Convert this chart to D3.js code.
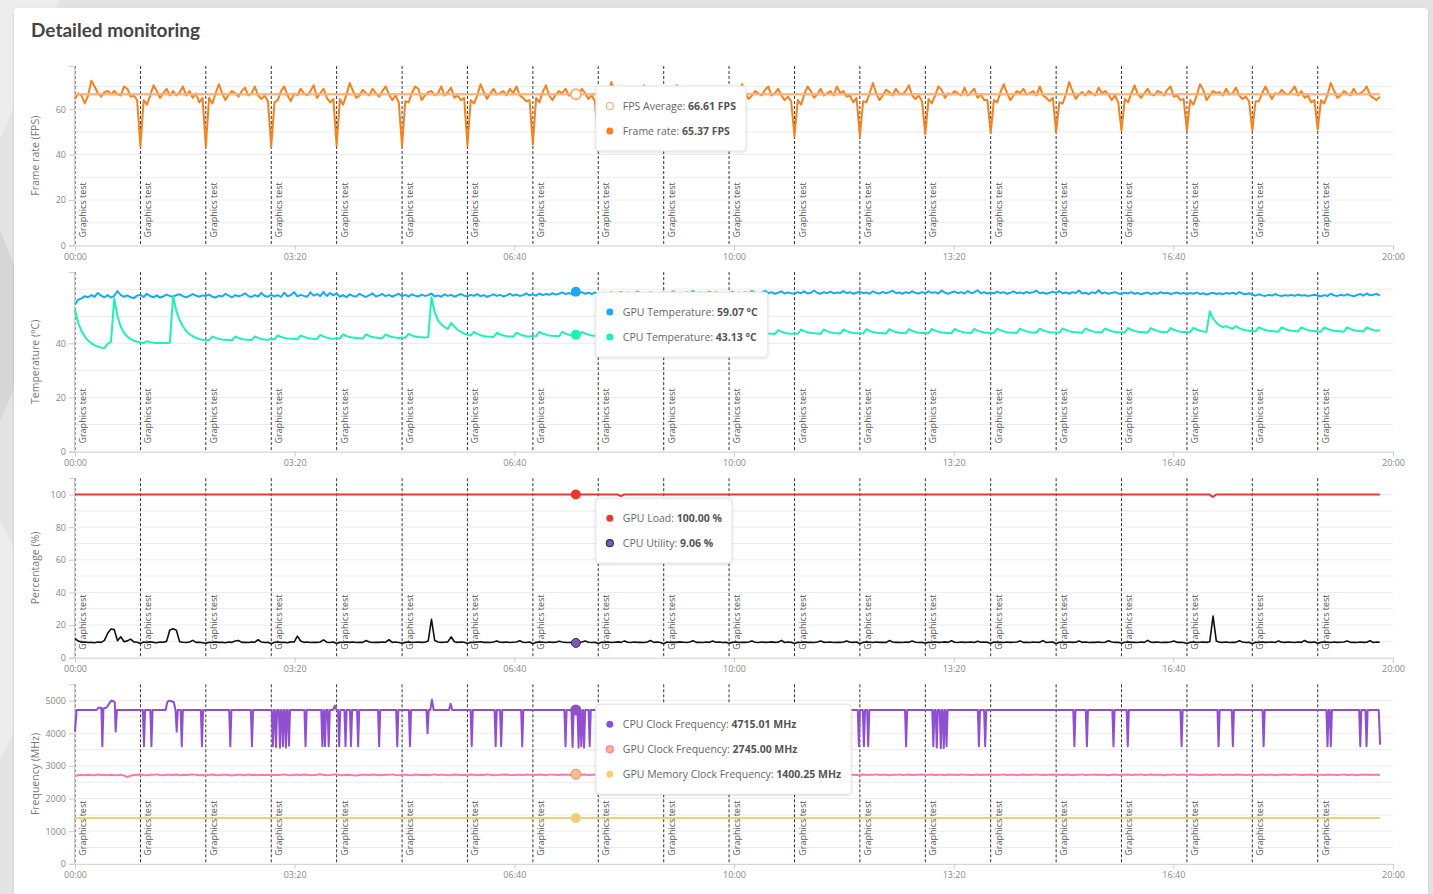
<!DOCTYPE html>
<html lang="en">
<head>
    <meta charset="utf-8" />
    <title>Detailed monitoring</title>
    <script src="https://d3js.org/d3.v7.min.js"></script>
    <style>
        body {
            margin: 0;
            padding: 0;
            background: #e3e3e3;
            overflow: hidden;
        }
        svg {
            display: block;
        }
    </style>
</head>
<body>
<svg id="chart"></svg>
<script>
    var w = 1433;
    var h = 894;

    // Time axis (seconds) and its labels
    var timeTicks = [0, 200, 400, 600, 800, 1000, 1200];
    var timeTickLabels = ["00:00", "03:20", "06:40", "10:00", "13:20", "16:40", "20:00"];

    // Start of every "Graphics test" run (seconds)
    var testStarts = [0, 59.6, 119.1, 178.7, 238.2, 297.8, 357.3, 416.9, 476.4, 536,
                      595.5, 655.1, 714.6, 774.2, 833.7, 893.3, 952.8, 1012.4, 1071.9, 1131.5];
    var testLabel = "Graphics test";

    // 20 samples per test run
    var sampleStep = 2.9775;

    // Frame rate (FPS), one row per test run
    var frameRate = [
        64.5, 67, 66, 62.5, 66, 72.5, 70, 67, 65.5, 67.5, 68, 66.5, 68, 66.5, 66, 70, 69, 65.5, 66, 64,
        43.5, 64, 62, 66, 70.5, 68, 65, 67, 69, 66, 68, 66, 67.5, 70, 66, 68, 65, 67, 63, 65,
        43.5, 65, 62.5, 67, 71, 67, 64, 66.5, 68, 67, 65.5, 68, 69.5, 66, 67, 70, 66, 64.5, 66, 63.5,
        43.5, 63, 64, 68, 70, 66, 63.5, 67, 66, 69, 67, 66, 68, 70.5, 65, 67, 69, 65, 63, 64.5,
        44, 64.5, 62, 66.5, 71.5, 68, 65, 66, 68.5, 67, 66, 69, 67, 65.5, 68, 70, 66.5, 64, 66, 63,
        44, 63.5, 63, 67, 70, 69, 64, 66, 67.5, 68, 66, 67, 70, 66, 67.5, 69.5, 65, 66, 64, 65,
        44, 64, 62.5, 66, 71, 67.5, 64.5, 67, 69, 66.5, 67, 68, 66, 69, 67, 70, 66, 65, 63.5, 64,
        44.5, 65, 63, 67.5, 70.5, 66, 64, 66.5, 68, 67, 69, 66, 67, 65.37, 66, 69, 67, 64.5, 66, 63.5,
        45, 64, 63, 67, 72, 67, 65, 66, 68, 66.5, 67, 69, 66, 68, 70.5, 66, 67, 65, 64, 66,
        46, 63.5, 62.5, 66, 70.5, 68.5, 64, 67, 66, 69, 67.5, 66, 68, 67, 69.5, 66.5, 65, 67, 63, 64.5,
        47, 64.5, 63, 67, 71, 66.5, 64.5, 66, 68, 67, 66, 68.5, 70, 66, 67, 69, 66, 64, 65.5, 63.5,
        48, 64, 62, 66.5, 70, 68, 65, 66.5, 69, 66, 67, 68, 66, 70, 67, 68, 65.5, 66, 63, 65,
        48, 63.5, 63, 67, 71.5, 67, 64, 66, 68.5, 67.5, 66, 69, 67, 66.5, 68, 70.5, 66, 64.5, 66, 63.5,
        49, 64.5, 62.5, 66, 70, 68.5, 65, 67, 66.5, 68, 67, 66, 69.5, 66, 67.5, 69, 65, 66.5, 64, 64,
        49.5, 64, 63, 67.5, 71, 67, 64, 66, 68, 67, 69, 66.5, 67, 68, 66, 70, 66, 65, 63.5, 65,
        50, 63, 62.5, 66.5, 72, 68, 64.5, 66.5, 67.5, 66, 68, 67, 66, 69.5, 67, 68, 66.5, 64, 66, 63,
        50.5, 64.5, 63, 67, 70.5, 66.5, 65, 67, 69, 66.5, 66, 68, 67.5, 66, 68.5, 70, 65.5, 66, 64, 64.5,
        50.5, 64, 62, 66, 71, 68.5, 64, 66, 68, 67, 67.5, 66, 69, 66.5, 67, 69.5, 66, 64.5, 65.5, 63.5,
        50.5, 63.5, 63.5, 67, 70, 67, 64.5, 67, 66.5, 68.5, 67, 66.5, 68, 70, 66, 68, 65, 66, 63, 64,
        51, 64, 62.5, 66.5, 71.5, 68, 65, 66, 68, 67, 66, 69, 66.5, 67, 68, 70, 66, 65, 64, 65.5
    ];
    var fpsAverage = 66.61;

    // GPU temperature (°C)
    var gpuTemp = [
        54.5, 56.1, 56.6, 57.4, 57, 57.8, 57.2, 58.6, 57.6, 57, 57.8, 56.9, 57.5, 59.3, 57.8, 57.2, 57.7, 57, 56.7, 57.6,
        57.9, 57.1, 58.3, 57.4, 57, 57.7, 56.9, 57.3, 58, 57.5, 57.2, 57.8, 58.1, 57.4, 57, 57.5, 58.2, 57.6, 57.2, 57.7,
        57.5, 58, 57.2, 56.9, 57.6, 57.3, 58.3, 57.6, 57, 57.8, 57.4, 57.7, 58.5, 57.5, 57.1, 57.8, 57.3, 58.6, 57.5, 57.2,
        57.9, 57.3, 57.8, 57.1, 58.7, 57.4, 57.8, 58.9, 57.3, 57.9, 57.5, 57.2, 58.8, 57.6, 58.2, 57.4, 59, 57.5, 58.6, 57.7,
        58.4, 57.2, 57.8, 57, 58.1, 57.5, 57.3, 58.3, 57.6, 57.1, 57.8, 58.4, 57.3, 57.7, 58.2, 57.4, 57.9, 57.2, 57.8, 58.3,
        57.4, 57.9, 57.2, 58.1, 57.6, 57.3, 58, 57.5, 57.8, 58.4, 57.3, 57.7, 57.2, 58.1, 57.5, 57.9, 57.2, 57.7, 58.2, 57.6,
        57.3, 57.9, 57.5, 58.2, 57.4, 57.8, 57.2, 57.6, 58.1, 57.5, 57.9, 57.3, 57.7, 58.3, 57.6, 58, 57.5, 57.8, 58.4, 57.7,
        58.1, 57.6, 58.4, 57.8, 58.2, 57.9, 58.5, 58, 58.3, 58.8, 58.2, 58.6, 58.1, 59.07, 58.5, 58.9, 58.3, 58.7, 58.2, 58.8,
        58.5, 58.1, 58.7, 58.3, 58.9, 58.2, 58.6, 59, 58.4, 58.8, 58.2, 58.5, 59.1, 58.4, 58.7, 58.3, 58.9, 58.5, 58.1, 58.6,
        58.8, 58.3, 58.6, 59.2, 58.4, 58.7, 58.2, 58.9, 58.5, 59.3, 58.4, 58.8, 58.3, 58.6, 59.1, 58.5, 58.9, 58.3, 58.7, 58.4,
        58.6, 59.1, 58.4, 58.8, 58.2, 58.9, 58.5, 59.3, 58.6, 58.3, 58.8, 59.4, 58.5, 58.9, 58.3, 58.7, 59.2, 58.4, 58.8, 58.5,
        58.3, 58.9, 58.5, 59.2, 58.4, 58.7, 59.5, 58.6, 58.3, 58.9, 58.5, 59.1, 58.4, 58.8, 58.6, 59.3, 58.5, 58.9, 58.3, 58.7,
        59.1, 58.5, 58.8, 58.3, 59.2, 58.6, 58.4, 59, 58.5, 58.9, 59.4, 58.6, 58.8, 58.3, 58.9, 58.5, 59.2, 58.6, 58.4, 58.9,
        58.5, 59.2, 58.6, 58.9, 58.4, 59.5, 58.7, 58.3, 58.8, 59.1, 58.5, 58.9, 58.4, 59.3, 58.6, 58.8, 59.6, 58.5, 58.9, 58.4,
        58.8, 58.4, 59.1, 58.6, 58.9, 58.3, 58.7, 59.2, 58.5, 58.8, 58.4, 59, 58.6, 58.9, 59.4, 58.5, 58.8, 58.3, 58.7, 59.1,
        58.6, 59.3, 58.5, 58.8, 58.3, 58.9, 58.6, 59.5, 58.4, 58.7, 58.2, 58.9, 58.5, 59.6, 58.4, 58.8, 58.3, 58.6, 58.9, 58.4,
        58.2, 58.7, 58.4, 58.9, 58.3, 58.6, 58.1, 58.5, 58.8, 58.2, 58.6, 58.3, 58.9, 58.4, 58.7, 58.2, 58.5, 58.8, 58.3, 58.6,
        58.1, 58.6, 58.3, 58.8, 58.2, 58.5, 58, 58.4, 58.7, 58.2, 58.5, 58.1, 58.6, 58.3, 58.7, 58.2, 58.9, 58.4, 58.1, 58.5,
        57.9, 57.6, 58.1, 57.7, 57.5, 57.9, 57.6, 58.2, 57.7, 57.5, 57.8, 57.6, 57.9, 57.5, 58, 57.6, 57.8, 57.5, 57.7, 57.9,
        57.6, 57.4, 57.8, 57.5, 58.3, 57.7, 57.5, 57.9, 57.6, 58.1, 57.7, 57.4, 57.8, 58.2, 57.6, 58.4, 57.7, 57.9, 58.3, 57.6
    ];

    // CPU temperature (°C)
    var cpuTemp = [
        52.3, 47.5, 44.5, 42.5, 41, 40, 39.3, 38.8, 38.4, 38.3, 39.8, 40.5, 56.5, 50, 46, 43.8, 42.5, 41.6, 41, 40.6,
        40.3, 40.1, 40.8, 40.4, 40.2, 40.1, 40.1, 40.1, 40.1, 40.2, 57.3, 52, 48.5, 46.2, 44.6, 43.4, 42.6, 42, 41.6, 41.3,
        41.2, 41.1, 42.5, 42, 41.6, 41.4, 41.3, 41.2, 41.1, 42.5, 42, 41.6, 41.4, 41.3, 41.2, 42.5, 42, 41.6, 41.4, 41.3,
        41.6, 41.5, 42.9, 42.4, 42, 41.8, 41.7, 41.6, 41.5, 42.9, 42.4, 42, 41.8, 41.7, 41.6, 43.1, 42.5, 42.1, 41.8, 41.7,
        41.9, 41.8, 43.3, 42.7, 42.3, 42.1, 42, 41.9, 41.8, 43.3, 42.7, 42.3, 42.1, 42, 41.9, 43.3, 42.7, 42.3, 42.1, 42,
        42.1, 42, 43.5, 42.9, 42.5, 42.3, 42.2, 42.1, 42.3, 57, 51.5, 48.5, 47, 46, 45.3, 47.5, 46.2, 45, 44.2, 43.6,
        43.2, 42.9, 44.2, 43.5, 43, 42.7, 42.5, 42.4, 42.3, 43.9, 43.3, 42.9, 42.6, 42.5, 42.4, 43.9, 43.3, 42.9, 42.6, 42.5,
        42.7, 42.6, 44.2, 43.6, 43.2, 42.9, 42.8, 42.7, 42.6, 44.2, 43.6, 43.2, 42.9, 43.13, 42.7, 44.2, 43.6, 43.2, 42.9, 42.8,
        43, 42.9, 44.5, 43.9, 43.5, 43.2, 43.1, 43, 42.9, 44.5, 43.9, 43.5, 43.2, 43.1, 43, 44.5, 43.9, 43.5, 43.2, 43.1,
        43.2, 43.1, 44.7, 44.1, 43.7, 43.4, 43.3, 43.2, 43.1, 44.7, 44.1, 43.7, 43.4, 43.3, 43.2, 44.7, 44.1, 43.7, 43.4, 43.3,
        43.4, 43.3, 44.9, 44.3, 43.9, 43.6, 43.5, 43.4, 43.3, 44.9, 44.3, 43.9, 43.6, 43.5, 43.4, 44.9, 44.3, 43.9, 43.6, 43.5,
        43.6, 43.5, 45.1, 44.5, 44.1, 43.8, 43.7, 43.6, 43.5, 45.1, 44.5, 44.1, 43.8, 43.7, 43.6, 45.1, 44.5, 44.1, 43.8, 43.7,
        43.7, 43.6, 45.2, 44.6, 44.2, 43.9, 43.8, 43.7, 43.6, 45.2, 44.6, 44.2, 43.9, 43.8, 43.7, 45.2, 44.6, 44.2, 43.9, 43.8,
        43.8, 43.7, 45.3, 44.7, 44.3, 44, 43.9, 43.8, 43.7, 45.3, 44.7, 44.3, 44, 43.9, 43.8, 45.3, 44.7, 44.3, 44, 43.9,
        43.9, 43.8, 45.4, 44.8, 44.4, 44.1, 44, 43.9, 43.8, 45.4, 44.8, 44.4, 44.1, 44, 43.9, 45.4, 44.8, 44.4, 44.1, 44,
        44, 43.9, 45.5, 44.9, 44.5, 44.2, 44.1, 44, 43.9, 45.5, 44.9, 44.5, 44.2, 44.1, 44, 45.5, 44.9, 44.5, 44.2, 44.1,
        44.1, 44, 45.6, 45, 44.6, 44.3, 44.2, 44.1, 44, 45.6, 45, 44.6, 44.3, 44.2, 44.1, 45.6, 45, 44.6, 44.3, 44.2,
        44.2, 44.1, 45.7, 45.1, 44.7, 44.4, 44.3, 51.8, 49.2, 47.6, 46.6, 46, 46.3, 45.8, 45.4, 46.4, 45.6, 45.1, 44.8, 44.6,
        44.5, 44.4, 45.9, 45.3, 44.9, 44.6, 44.5, 44.4, 44.3, 45.9, 45.3, 44.9, 44.6, 44.5, 44.4, 45.9, 45.3, 44.9, 44.6, 44.5,
        44.4, 44.3, 45.9, 45.3, 44.9, 44.6, 44.5, 44.4, 44.3, 45.9, 45.3, 44.9, 44.6, 44.5, 44.4, 45.9, 45.3, 44.9, 44.6, 44.9
    ];

    // GPU load (%), sparse points [seconds, value]
    var gpuLoad = [[0, 100], [494, 100], [497, 99], [500, 100], [1033, 100], [1036, 98.5], [1039, 100], [1188, 100]];

    // CPU utility (%)
    var cpuUtil = [
        11.8, 10.2, 9.4, 9.6, 9.3, 9.5, 9.2, 9.6, 9.4, 10.6, 15, 17.6, 17.2, 10.4, 12.8, 9.8, 10.3, 11.4, 9.7, 9.5,
        8.7, 9.6, 9.3, 9.8, 9.4, 9.2, 9.6, 9.5, 10, 17, 17.8, 16.8, 9.8, 9.5, 9.3, 9.6, 10.6, 9.4, 9.5, 9.2,
        8.8, 9.5, 9.3, 9.6, 9.4, 9.5, 9.2, 9.6, 9.4, 10.2, 10.5, 9.4, 9.5, 9.3, 9.6, 9.5, 11, 9.6, 9.3, 9.5,
        8.6, 9.4, 9.6, 9.3, 9.5, 9.2, 9.7, 9.6, 13.2, 10.2, 9.4, 9.6, 9.3, 9.5, 9.4, 9.6, 10.9, 9.5, 9.3, 9.6,
        8.7, 9.5, 9.3, 9.6, 9.4, 9.6, 9.3, 9.5, 9.4, 10.5, 9.6, 9.3, 9.5, 9.4, 9.6, 9.5, 11, 9.4, 9.6, 9.3,
        8.8, 9.4, 9.6, 9.3, 9.5, 9.6, 9.4, 9.5, 10.2, 23.5, 10.5, 9.6, 9.4, 9.5, 9.7, 12.8, 9.8, 9.4, 9.6, 9.5,
        8.7, 9.5, 9.3, 9.6, 9.8, 9.4, 9.5, 9.3, 9.6, 10.3, 9.5, 9.4, 9.6, 9.3, 9.5, 9.6, 10.4, 9.5, 9.3, 9.6,
        8.6, 9.4, 9.6, 9.5, 9.3, 9.6, 9.4, 9.5, 10.1, 9.6, 9.4, 9.3, 9.5, 9.06, 9.4, 9.6, 10.2, 9.5, 9.3, 9.5,
        8.7, 9.5, 9.4, 9.6, 9.3, 9.5, 9.7, 9.4, 10.3, 9.5, 9.3, 9.6, 9.4, 9.5, 9.3, 9.6, 10.5, 9.4, 9.6, 9.3,
        8.6, 9.6, 9.3, 9.5, 9.4, 9.7, 9.5, 9.3, 9.6, 10.4, 9.4, 9.5, 9.3, 9.6, 9.4, 10.2, 9.5, 9.6, 9.3, 9.5,
        8.8, 9.4, 9.6, 9.3, 9.5, 9.4, 9.6, 10.3, 9.5, 9.3, 9.6, 9.4, 9.5, 9.7, 9.4, 9.5, 10.6, 9.3, 9.6, 9.4,
        8.7, 9.5, 9.3, 9.6, 9.4, 9.5, 9.3, 9.6, 10.2, 9.4, 9.5, 9.6, 9.3, 9.5, 9.4, 9.6, 10.3, 9.5, 9.4, 9.6,
        8.6, 9.4, 9.6, 9.5, 9.3, 9.6, 9.4, 9.5, 9.3, 10.5, 9.6, 9.4, 9.5, 9.3, 9.6, 9.4, 10.2, 9.5, 9.3, 9.5,
        8.8, 9.5, 9.3, 9.6, 9.4, 9.5, 9.7, 9.4, 10.4, 9.5, 9.3, 9.6, 9.4, 9.5, 9.6, 9.3, 10.1, 9.5, 9.6, 9.4,
        8.7, 9.6, 9.4, 9.5, 9.3, 9.6, 9.4, 9.5, 9.6, 10.3, 9.4, 9.5, 9.3, 9.6, 9.5, 9.4, 10.5, 9.3, 9.5, 9.6,
        8.6, 9.4, 9.5, 9.3, 9.6, 9.4, 9.5, 10.2, 9.4, 9.6, 9.3, 9.5, 9.4, 9.6, 9.3, 9.5, 10.4, 9.6, 9.4, 9.5,
        8.8, 9.5, 9.6, 9.4, 9.5, 9.3, 9.6, 9.4, 10.6, 9.5, 9.4, 9.6, 9.3, 9.5, 9.4, 9.6, 10.2, 9.4, 9.5, 9.3,
        8.7, 9.4, 9.6, 9.3, 9.5, 9.6, 9.4, 9.8, 25.5, 10.2, 9.5, 9.4, 9.6, 9.3, 9.5, 9.4, 10.4, 9.6, 9.3, 9.5,
        8.6, 9.5, 9.3, 9.6, 9.4, 9.5, 9.6, 9.3, 10.3, 9.5, 9.4, 9.6, 9.5, 9.3, 9.6, 9.4, 10.5, 9.5, 9.4, 9.6,
        8.8, 9.4, 9.6, 9.5, 9.3, 9.6, 9.4, 9.5, 9.6, 10.2, 9.4, 9.5, 9.3, 9.6, 9.4, 9.5, 10.4, 9.3, 9.6, 9.5
    ];

    // CPU clock frequency (MHz), sparse points [seconds, MHz]
    var cpuClock = [
        [0, 4050], [1.5, 4715], [19.7, 4715], [21.5, 4780], [24, 4780], [24.9, 3600], [25.9, 4760], [28.8, 4790],
        [31, 4900], [33, 5000], [35, 4980], [36.2, 4950], [37, 4050], [38.2, 4715],
        [61.8, 4715], [62.8, 3600], [63.8, 4715], [68.6, 4715], [69.6, 3600], [70.6, 4715],
        [82.5, 4715], [84, 4950], [85.5, 5000], [88, 4980], [90, 4950], [91.5, 4715], [92.6, 4050], [93.6, 4715],
        [96.2, 4715], [97.2, 3600], [98.2, 4715], [114.6, 4715], [115.6, 3600], [116.6, 4715],
        [140.4, 4715], [141.4, 3600], [142.4, 4715], [160.1, 4715], [161.1, 3600], [162.1, 4715],
        [179.2, 4715], [180.2, 3600], [181.2, 4715], [182, 4715], [183, 3580], [184, 4715], [185.6, 4715], [186.6, 3560],
        [187.6, 4715], [188.3, 4715], [189.3, 3600], [190.3, 4715], [191, 4715], [192, 3560], [193, 4715],
        [193.8, 4715], [194.8, 3620], [195.8, 4715], [208.9, 4715], [209.9, 3600], [210.9, 4715],
        [224.2, 4715], [225.2, 3600], [226.2, 4715], [226.6, 4715], [227.6, 3600], [228.6, 4715], [230, 4715], [231, 3600], [232, 4715],
        [235, 4715], [236.5, 4850], [238, 4715], [239.5, 4715], [240.5, 3600], [241.5, 4715],
        [245.3, 4715], [246.3, 3600], [247.3, 4715], [250.3, 4715], [251.3, 3600], [252.3, 4715],
        [256.8, 4715], [257.8, 3600], [258.8, 4715], [275.9, 4715], [276.9, 3600], [277.9, 4715],
        [292.4, 4715], [293.4, 3600], [294.4, 4715], [304, 4715], [305, 3600], [306, 4715],
        [320, 4715], [321, 4000], [322, 4715], [323.5, 4715], [325, 5030], [326.5, 4715],
        [340.5, 4715], [342, 4900], [343.5, 4715], [360.2, 4715], [361.2, 3600], [362.2, 4715],
        [382, 4715], [383, 3600], [384, 4715], [387, 4715], [388, 3600], [389, 4715],
        [406.2, 4715], [407.2, 3600], [408.2, 4715], [445.6, 4715], [446.6, 3600], [447.6, 4715],
        [452, 4715], [453, 3580], [454, 4715], [457.5, 4715], [458.5, 3560], [459.5, 4715], [460, 4715], [461, 3600], [462, 4715],
        [462.5, 4715], [463.5, 3560], [464.5, 4715], [467.6, 4715], [468.6, 3600], [469.6, 4715],
        [520, 4715], [521, 3600], [522, 4715], [600, 4715], [601, 3600], [602, 4715],
        [712.7, 4715], [713.7, 3600], [714.7, 4715], [717.3, 4715], [718.3, 3600], [719.3, 4715],
        [721.2, 4715], [722.2, 3600], [723.2, 4715], [755.7, 4715], [756.7, 3600], [757.7, 4715],
        [780.5, 4715], [781.5, 3600], [782.5, 4715], [783.6, 4715], [784.6, 3560], [785.6, 4715],
        [787.3, 4715], [788.3, 3540], [789.3, 4715], [790, 4715], [791, 3550], [792, 4715], [792.5, 4715], [793.5, 3600], [794.5, 4715],
        [822, 4715], [823, 3600], [824, 4715], [827.7, 4715], [828.7, 3600], [829.7, 4715],
        [908.9, 4715], [909.9, 3600], [910.9, 4715], [920.3, 4715], [921.3, 3600], [922.3, 4715],
        [944.5, 4715], [945.5, 3600], [946.5, 4715], [957.5, 4715], [958.5, 3600], [959.5, 4715],
        [1006.5, 4715], [1007.5, 3600], [1008.5, 4715], [1040.2, 4715], [1041.2, 3600], [1042.2, 4715],
        [1053.2, 4715], [1054.2, 3600], [1055.2, 4715], [1081.2, 4715], [1082.2, 3600], [1083.2, 4715],
        [1139.4, 4715], [1140.4, 3600], [1141.4, 4715], [1142.4, 4715], [1143.4, 3600], [1144.4, 4715],
        [1169.2, 4715], [1170.2, 3600], [1171.2, 4715], [1174.9, 4715], [1175.9, 3600], [1176.9, 4715],
        [1187, 4715], [1188.3, 3650]
    ];

    // GPU clock frequency (MHz)
    var gpuClock = [
        2690, 2715, 2725, 2710, 2730, 2720, 2715, 2735, 2720, 2725, 2710, 2730, 2720, 2715, 2725, 2705, 2655, 2700, 2720, 2730,
        2735, 2720, 2715, 2730, 2725, 2740, 2720, 2715, 2725, 2730, 2720, 2735, 2715, 2725, 2720, 2730, 2740, 2725, 2715, 2720,
        2710, 2725, 2735, 2720, 2715, 2725, 2730, 2720, 2705, 2720, 2730, 2725, 2715, 2735, 2720, 2725, 2715, 2730, 2720, 2725,
        2715, 2730, 2720, 2725, 2740, 2720, 2715, 2730, 2725, 2720, 2735, 2725, 2715, 2720, 2730, 2745, 2725, 2715, 2720, 2735,
        2740, 2720, 2715, 2725, 2720, 2710, 2705, 2720, 2730, 2725, 2720, 2735, 2725, 2715, 2720, 2730, 2725, 2740, 2720, 2715,
        2725, 2730, 2720, 2715, 2735, 2725, 2720, 2730, 2715, 2725, 2740, 2720, 2725, 2730, 2715, 2720, 2735, 2725, 2720, 2730,
        2720, 2735, 2725, 2715, 2730, 2720, 2740, 2725, 2715, 2720, 2730, 2725, 2735, 2720, 2715, 2730, 2725, 2720, 2735, 2725,
        2730, 2720, 2735, 2725, 2715, 2740, 2725, 2730, 2720, 2735, 2725, 2730, 2720, 2745, 2730, 2725, 2735, 2720, 2730, 2725,
        2735, 2725, 2720, 2730, 2740, 2725, 2715, 2730, 2725, 2735, 2720, 2725, 2740, 2730, 2720, 2725, 2735, 2725, 2715, 2730,
        2725, 2735, 2720, 2730, 2725, 2715, 2730, 2740, 2725, 2720, 2735, 2725, 2730, 2720, 2740, 2725, 2720, 2730, 2735, 2725,
        2720, 2730, 2725, 2740, 2720, 2730, 2725, 2715, 2735, 2725, 2730, 2720, 2725, 2735, 2720, 2730, 2725, 2740, 2725, 2720,
        2730, 2720, 2735, 2725, 2715, 2730, 2740, 2725, 2720, 2730, 2725, 2735, 2715, 2725, 2730, 2720, 2735, 2725, 2730, 2720,
        2725, 2735, 2720, 2730, 2725, 2740, 2720, 2730, 2725, 2715, 2730, 2725, 2740, 2720, 2725, 2735, 2720, 2730, 2725, 2735,
        2720, 2725, 2735, 2720, 2730, 2725, 2715, 2735, 2725, 2730, 2720, 2740, 2725, 2730, 2720, 2725, 2735, 2720, 2730, 2725,
        2735, 2720, 2730, 2725, 2740, 2720, 2725, 2730, 2715, 2725, 2735, 2720, 2730, 2725, 2740, 2725, 2720, 2730, 2725, 2735,
        2725, 2730, 2720, 2735, 2725, 2715, 2730, 2725, 2740, 2720, 2730, 2725, 2735, 2720, 2725, 2730, 2715, 2725, 2735, 2720,
        2730, 2725, 2735, 2720, 2730, 2725, 2740, 2720, 2725, 2735, 2720, 2730, 2725, 2715, 2730, 2725, 2740, 2720, 2730, 2725,
        2720, 2735, 2725, 2730, 2715, 2725, 2735, 2720, 2730, 2725, 2740, 2720, 2725, 2730, 2720, 2735, 2725, 2730, 2720, 2725,
        2730, 2720, 2725, 2735, 2720, 2730, 2725, 2715, 2730, 2725, 2735, 2720, 2730, 2740, 2725, 2720, 2730, 2725, 2735, 2720,
        2725, 2730, 2720, 2735, 2725, 2730, 2720, 2725, 2740, 2720, 2730, 2725, 2715, 2730, 2725, 2735, 2720, 2730, 2725, 2720
    ];

    // GPU memory clock frequency (MHz), sparse points
    var gpuMemClock = [[0, 1400.25], [1188, 1400.25]];

    // Hover point shown in the tooltips
    var hoverTime = 456;
    var hoverFps = [66.61, 65.37];
    var hoverTemp = [59.07, 43.13];
    var hoverPct = [100, 9.06];
    var hoverFreq = [4715.01, 2745, 1400.25];

    // Y axis ticks
    var fpsTicks = [0, 20, 40, 60];
    var tempTicks = [0, 20, 40];
    var pctTicks = [0, 20, 40, 60, 80, 100];
    var freqTicks = [0, 1000, 2000, 3000, 4000, 5000];

    // ---------------------------------------------------------------
    var fontFamily = "'Open Sans', 'Noto Sans', sans-serif";

    function onGrid(values) {
        return values.map(function(v, i) { return [i * sampleStep, v]; });
    }

    var svg = d3.select("#chart")
        .attr("width", w)
        .attr("height", h);

    var defs = svg.append("defs");
    var shadow = defs.append("filter").attr("id", "shadow")
        .attr("x", "-10%").attr("y", "-10%").attr("width", "120%").attr("height", "130%");
    shadow.append("feDropShadow")
        .attr("dx", 0).attr("dy", 1).attr("stdDeviation", 1.5)
        .attr("flood-color", "#000").attr("flood-opacity", 0.12);

    // Background shapes and the white card
    svg.append("rect").attr("width", w).attr("height", h).attr("fill", "#e3e3e3");
    svg.append("polygon").attr("points", "0,0 60,0 0,140").attr("fill", "#ececec");
    svg.append("polygon").attr("points", "0,230 40,330 0,420").attr("fill", "#d6d6d6");
    svg.append("polygon").attr("points", "0,520 60,640 0,760").attr("fill", "#ededed");
    svg.append("rect")
        .attr("x", 14).attr("y", 8)
        .attr("width", 1414).attr("height", 910)
        .attr("rx", 4)
        .attr("fill", "#fff")
        .attr("filter", "url(#shadow)");

    svg.append("text")
        .attr("x", 31).attr("y", 37)
        .attr("font-family", "Lato, 'Open Sans', sans-serif")
        .attr("font-weight", "bold")
        .attr("font-size", "19px")
        .attr("fill", "#444")
        .text("Detailed monitoring");

    var xScale = d3.scaleLinear()
        .domain([0, 1200])
        .range([75, 1393]);

    var panels = [
        {
            title: "Frame rate (FPS)", max: 79, grid: 10, ticks: fpsTicks,
            series: [
                {points: onGrid(frameRate), color: "#f5821f", width: 2},
                {points: [[0, fpsAverage], [1188, fpsAverage]], color: "#f8b07a", width: 2.5, opacity: 0.9}
            ],
            dots: [
                {v: hoverFps[0], fill: "#fff", stroke: "#f8b07a", r: 5, sw: 2}
            ],
            tips: [
                {label: "FPS Average: ", value: hoverFps[0].toFixed(2) + " FPS", fill: "#fff", stroke: "#f5b07c"},
                {label: "Frame rate: ", value: hoverFps[1].toFixed(2) + " FPS", fill: "#f5821f", stroke: "none"}
            ]
        },
        {
            title: "Temperature (°C)", max: 66.3, grid: 10, ticks: tempTicks,
            series: [
                {points: onGrid(gpuTemp), color: "#19a9f7", width: 2},
                {points: onGrid(cpuTemp), color: "#1ff0b6", width: 2}
            ],
            dots: [
                {v: hoverTemp[0], fill: "#19a9f7", r: 5},
                {v: hoverTemp[1], fill: "#1ff0b6", r: 5}
            ],
            tips: [
                {label: "GPU Temperature: ", value: hoverTemp[0].toFixed(2) + " °C", fill: "#19a9f7", stroke: "none"},
                {label: "CPU Temperature: ", value: hoverTemp[1].toFixed(2) + " °C", fill: "#1ff0b6", stroke: "none"}
            ]
        },
        {
            title: "Percentage (%)", max: 110, grid: 10, ticks: pctTicks,
            series: [
                {points: gpuLoad, color: "#e53935", width: 2},
                {points: onGrid(cpuUtil), color: "#111", width: 1.6}
            ],
            dots: [
                {v: hoverPct[0], fill: "#e53935", r: 5},
                {v: hoverPct[1], fill: "#7e57c2", stroke: "#333", r: 4.5, sw: 1}
            ],
            tips: [
                {label: "GPU Load: ", value: hoverPct[0].toFixed(2) + " %", fill: "#e53935", stroke: "none"},
                {label: "CPU Utility: ", value: hoverPct[1].toFixed(2) + " %", fill: "#7e57c2", stroke: "#333"}
            ]
        },
        {
            title: "Frequency (MHz)", max: 5500, grid: 500, ticks: freqTicks,
            series: [
                {points: cpuClock, color: "#8e4fd0", width: 2},
                {points: onGrid(gpuClock), color: "#f07ea6", width: 2},
                {points: gpuMemClock, color: "#f3cd7a", width: 2}
            ],
            dots: [
                {v: hoverFreq[0], fill: "#8e4fd0", r: 5.5},
                {v: hoverFreq[1], fill: "#f4c47c", stroke: "#f07ea6", r: 5, sw: 1},
                {v: hoverFreq[2], fill: "#f3cd7a", r: 5}
            ],
            tips: [
                {label: "CPU Clock Frequency: ", value: hoverFreq[0].toFixed(2) + " MHz", fill: "#8e4fd0", stroke: "none"},
                {label: "GPU Clock Frequency: ", value: hoverFreq[1].toFixed(2) + " MHz", fill: "#f4b987", stroke: "#f07ea6"},
                {label: "GPU Memory Clock Frequency: ", value: hoverFreq[2].toFixed(2) + " MHz", fill: "#f3cd7a", stroke: "none"}
            ]
        }
    ];

    var panelH = 179.5;
    var tipLayer = svg.append("g");

    panels.forEach(function(p, i) {
        var top = 66 + i * 206.1;
        var bottom = top + panelH;

        var yScale = d3.scaleLinear()
            .domain([0, p.max])
            .range([bottom, top]);

        var g = svg.append("g");

        // Horizontal grid lines
        g.selectAll(".grid")
            .data(d3.range(p.grid, p.max, p.grid))
            .enter().append("line")
            .attr("x1", xScale(0)).attr("x2", xScale(1200))
            .attr("y1", function(d) { return yScale(d); })
            .attr("y2", function(d) { return yScale(d); })
            .attr("stroke", "#ececec")
            .attr("stroke-width", 1);

        // Graphics test plot lines
        g.selectAll(".test")
            .data(testStarts)
            .enter().append("line")
            .attr("x1", function(d) { return xScale(d); })
            .attr("x2", function(d) { return xScale(d); })
            .attr("y1", top).attr("y2", bottom)
            .attr("stroke", "#333")
            .attr("stroke-width", 1)
            .attr("stroke-dasharray", "3,2");

        g.selectAll(".testLabel")
            .data(testStarts)
            .enter().append("text")
            .attr("transform", function(d) {
                return "translate(" + (xScale(d) + 11) + "," + (bottom - 8) + ") rotate(-90)";
            })
            .attr("font-family", fontFamily)
            .attr("font-size", "9px")
            .attr("fill", "#555")
            .text(testLabel);

        // Axes
        var yAxis = d3.axisLeft(yScale)
            .tickValues(p.ticks)
            .tickFormat(d3.format("d"))
            .tickSize(5)
            .tickSizeOuter(5)
            .tickPadding(3);
        var ya = g.append("g")
            .attr("transform", "translate(74,0)")
            .call(yAxis);
        ya.select(".domain").attr("stroke", "#ccc");
        ya.selectAll(".tick line").attr("stroke", "#ccc");
        ya.selectAll(".tick text")
            .attr("fill", "#888")
            .attr("font-family", fontFamily)
            .attr("font-size", "9px");

        var xAxis = d3.axisBottom(xScale)
            .tickValues(timeTicks)
            .tickFormat(function(d, k) { return timeTickLabels[k]; })
            .tickSize(5)
            .tickSizeOuter(0)
            .tickPadding(3);
        var xa = g.append("g")
            .attr("transform", "translate(0," + bottom + ")")
            .call(xAxis);
        xa.select(".domain").attr("stroke", "#ccc");
        xa.selectAll(".tick line").attr("stroke", "#ccc");
        xa.selectAll(".tick text")
            .attr("fill", "#888")
            .attr("font-family", fontFamily)
            .attr("font-size", "9px");

        g.append("text")
            .attr("transform", "translate(39," + (top + panelH / 2) + ") rotate(-90)")
            .attr("text-anchor", "middle")
            .attr("font-family", fontFamily)
            .attr("font-size", "10.5px")
            .attr("fill", "#777")
            .text(p.title);

        // Series lines
        var line = d3.line()
            .x(function(d) { return xScale(d[0]); })
            .y(function(d) { return yScale(d[1]); });

        p.series.forEach(function(s) {
            g.append("path")
                .datum(s.points)
                .attr("d", line)
                .attr("fill", "none")
                .attr("stroke", s.color)
                .attr("stroke-width", s.width)
                .attr("stroke-linejoin", "round")
                .attr("opacity", s.opacity || 1);
        });

        // Hover markers
        p.dots.forEach(function(d) {
            g.append("circle")
                .attr("cx", xScale(hoverTime))
                .attr("cy", yScale(d.v))
                .attr("r", d.r)
                .attr("fill", d.fill)
                .attr("stroke", d.stroke || "none")
                .attr("stroke-width", d.sw || 0);
        });

        // Tooltip
        var tipX = xScale(hoverTime) + 20;
        var tipY = top + 20;
        var tip = tipLayer.append("g")
            .attr("transform", "translate(" + tipX + "," + tipY + ")");
        var box = tip.append("rect")
            .attr("rx", 3)
            .attr("fill", "#fff")
            .attr("stroke", "#e2e2e2")
            .attr("filter", "url(#shadow)");

        var maxW = 0;
        p.tips.forEach(function(t, k) {
            var cy = 20 + k * 25;
            tip.append("circle")
                .attr("cx", 14).attr("cy", cy)
                .attr("r", 3.5)
                .attr("fill", t.fill)
                .attr("stroke", t.stroke)
                .attr("stroke-width", 1.2);
            var txt = tip.append("text")
                .attr("x", 27).attr("y", cy + 3.8)
                .attr("font-family", fontFamily)
                .attr("font-size", "10.5px");
            txt.append("tspan").attr("fill", "#666").text(t.label);
            txt.append("tspan").attr("fill", "#555").attr("font-weight", "bold").text(t.value);
            maxW = Math.max(maxW, txt.node().getComputedTextLength());
        });
        box.attr("width", 27 + maxW + 10)
            .attr("height", p.tips.length * 25 + 15);
    });

    // Tooltips sit above every panel
    tipLayer.raise();
</script>
</body>
</html>
